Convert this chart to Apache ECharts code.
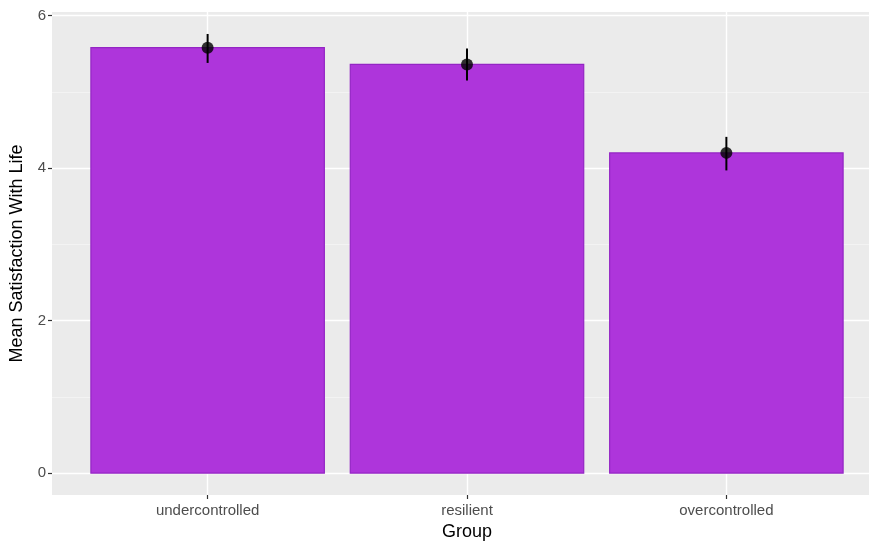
<!DOCTYPE html>
<html>
<head>
<meta charset="utf-8">
<script src="https://cdn.jsdelivr.net/npm/echarts@6/dist/echarts.min.js"></script>
<style>
  html, body { margin: 0; padding: 0; background: #fff; }
  #chart { width: 869px; height: 541px; }
</style>
</head>
<body>
<div id="chart"></div>
<script>
// Group means of life satisfaction with their error bar limits
const categories = ['undercontrolled', 'resilient', 'overcontrolled'];
const means = [5.58, 5.36, 4.20];
const lower = [5.38, 5.15, 3.97];
const upper = [5.76, 5.57, 4.41];
const yTicks = [0, 2, 4, 6];
const yMinor = [1, 3, 5];

const FONT = '"Liberation Sans", Arial, Helvetica, sans-serif';
const BAR_HALF = 0.45;

const chart = echarts.init(document.getElementById('chart'), null, { renderer: 'canvas' });

const barData = categories.map((c, i) => [i, means[i]]);
const errData = categories.map((c, i) => [i, lower[i], upper[i]]);

const option = {
  animation: false,
  backgroundColor: '#ffffff',
  grid: {
    left: 52, top: 12, bottom: 46, right: -13,
    outerBoundsMode: 'none', containLabel: false,
    show: true, backgroundColor: '#EBEBEB', borderWidth: 0
  },
  xAxis: [{
    type: 'value', min: -0.6, max: 2.6,
    name: 'Group', nameLocation: 'middle', nameGap: 26,
    nameTextStyle: { fontFamily: FONT, fontSize: 18, color: '#000' },
    axisLine: { show: false, onZero: false },
    axisTick: { show: true, length: 4, lineStyle: { color: '#333333', width: 1.2 }, customValues: [0, 1, 2] },
    axisLabel: {
      customValues: [0, 1, 2], margin: 8,
      fontFamily: FONT, fontSize: 15, color: '#4D4D4D',
      formatter: v => categories[Math.round(v)]
    },
    splitLine: { show: true, lineStyle: { color: '#FFFFFF', width: 1.4 } }
  }],
  yAxis: [{
    type: 'value', min: -0.288, max: 6.048,
    name: 'Mean Satisfaction With Life', nameLocation: 'middle', nameGap: 26,
    nameTextStyle: { fontFamily: FONT, fontSize: 18, color: '#000' },
    axisLine: { show: false, onZero: false },
    axisTick: { show: true, length: 4, lineStyle: { color: '#333333', width: 1.2 }, customValues: yTicks },
    axisLabel: { customValues: yTicks, margin: 6, fontFamily: FONT, fontSize: 15, color: '#4D4D4D' },
    splitLine: { show: true, lineStyle: { color: '#FFFFFF', width: 1.4 } }
  }, {
    type: 'value', min: -0.288, max: 6.048, position: 'left',
    axisLine: { show: false, onZero: false },
    axisTick: { show: false, customValues: yMinor },
    axisLabel: { show: false, customValues: yMinor },
    splitLine: { show: true, lineStyle: { color: '#F5F5F5', width: 0.8 } }
  }],
  series: [
    {
      type: 'custom', name: 'bars', z: 3,
      data: barData,
      encode: { x: 0, y: 1 },
      renderItem: (params, api) => {
        const i = api.value(0), v = api.value(1);
        const p0 = api.coord([i - BAR_HALF, v]);
        const p1 = api.coord([i + BAR_HALF, 0]);
        return {
          type: 'rect',
          shape: { x: p0[0], y: p0[1], width: p1[0] - p0[0], height: p1[1] - p0[1] },
          style: { fill: '#AE35DB', stroke: '#9425C4', lineWidth: 1.2 }
        };
      }
    },
    {
      type: 'custom', name: 'errors', z: 4,
      data: errData,
      encode: { x: 0, y: [1, 2] },
      renderItem: (params, api) => {
        const i = api.value(0);
        const a = api.coord([i, api.value(1)]);
        const b = api.coord([i, api.value(2)]);
        return {
          type: 'line',
          shape: { x1: a[0], y1: a[1], x2: b[0], y2: b[1] },
          style: { stroke: '#000', lineWidth: 2 }
        };
      }
    },
    {
      type: 'scatter', name: 'means', z: 5,
      data: barData,
      symbol: 'circle', symbolSize: 12,
      itemStyle: { color: '#000' }
    }
  ]
};

chart.setOption(option);
</script>
</body>
</html>
